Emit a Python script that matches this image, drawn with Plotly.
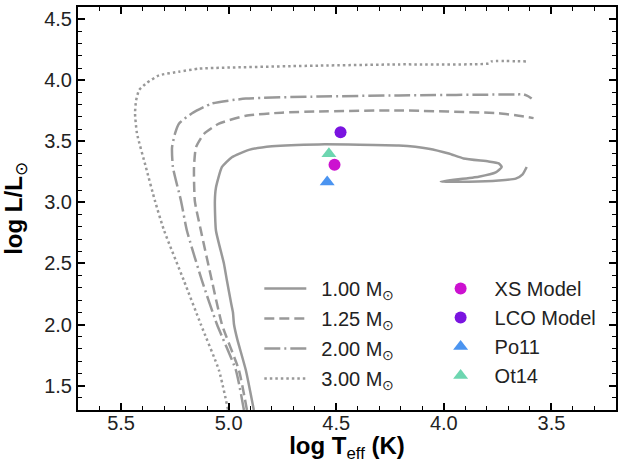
import plotly.graph_objects as go

# ---- data ----
m100_teff = [4.883, 4.920, 4.960, 4.975, 4.980, 4.988, 5.008, 5.022, 5.059, 5.064, 5.059, 5.031, 4.985, 4.906, 4.799,
             4.581, 4.209, 4.070, 3.977, 3.908, 3.792, 3.745, 3.731, 3.759, 3.838, 4.014, 3.884, 3.745, 3.666, 3.634, 3.615]
m100_lum = [1.30, 1.625, 1.88, 2.00, 2.10, 2.17, 2.36, 2.50, 2.77, 3.01, 3.12, 3.29, 3.37, 3.43, 3.46,
            3.475, 3.466, 3.44, 3.40, 3.36, 3.335, 3.32, 3.29, 3.245, 3.21, 3.17, 3.17, 3.18, 3.195, 3.23, 3.29]

m125_teff = [4.915, 4.952, 5.031, 5.078, 5.129, 5.157, 5.161, 5.152, 5.115, 5.045, 4.920, 4.753, 4.581, 4.209, 3.745, 3.652, 3.583]
m125_lum = [1.30, 1.625, 2.00, 2.36, 2.77, 3.01, 3.285, 3.45, 3.56, 3.645, 3.71, 3.735, 3.745, 3.753, 3.73, 3.71, 3.69]

m200_teff = [4.929, 4.966, 5.054, 5.124, 5.194, 5.221, 5.259, 5.263, 5.249, 5.231, 5.170, 5.078, 4.920, 4.581, 4.209, 3.666, 3.629, 3.606, 3.592]
m200_lum = [1.30, 1.625, 2.00, 2.36, 2.77, 3.01, 3.29, 3.45, 3.565, 3.645, 3.73, 3.81, 3.85, 3.867, 3.876, 3.884, 3.884, 3.867, 3.85]

m300_teff = [5.003, 5.045, 5.129, 5.208, 5.300, 5.342, 5.384, 5.426, 5.435, 5.430, 5.416, 5.379, 5.324, 5.231, 5.138, 4.581, 4.209, 3.792, 3.778, 3.606]
m300_lum = [1.305, 1.625, 2.00, 2.36, 2.77, 3.01, 3.285, 3.565, 3.73, 3.835, 3.92, 3.98, 4.04, 4.07, 4.095, 4.12, 4.13, 4.137, 4.154, 4.154]

track_names = ["\u20021.00 M<sub>⊙</sub>", "\u20021.25 M<sub>⊙</sub>", "\u20022.00 M<sub>⊙</sub>", "\u20023.00 M<sub>⊙</sub>"]

point_names = ["XS Model", "LCO Model", "Po11", "Ot14"]
point_teff = [4.508, 4.480, 4.542, 4.534]
point_lum = [3.309, 3.575, 3.166, 3.398]

x_ticks = [5.5, 5.0, 4.5, 4.0, 3.5]
y_ticks = [1.5, 2.0, 2.5, 3.0, 3.5, 4.0, 4.5]

# ---- styles ----
gray = "#999999"
dashes = ["solid", "10px,5px", "16px,4px,2px,4px", "2.5px,3px"]
widths = [2.5, 2.5, 2.5, 2.5]
pt_colors = ["#cc11d0", "#7a14e0", "#4b94f0", "#6dd6b0"]
pt_symbols = ["circle", "circle", "triangle-up", "triangle-up"]
pt_sizes = [12, 12, 13, 13]

fig = go.Figure()
tracks = [(m100_teff, m100_lum), (m125_teff, m125_lum), (m200_teff, m200_lum), (m300_teff, m300_lum)]
for i, (tx, ly) in enumerate(tracks):
    fig.add_trace(go.Scatter(
        x=tx, y=ly, mode="lines", name=track_names[i],
        line=dict(color=gray, width=widths[i], dash=dashes[i], shape="spline", smoothing=0.5),
        legend="legend", legendgroup="t%d" % i))

for i in range(len(point_names)):
    fig.add_trace(go.Scatter(
        x=[point_teff[i]], y=[point_lum[i]], mode="markers", name=point_names[i],
        marker=dict(color=pt_colors[i], symbol=pt_symbols[i], size=pt_sizes[i]),
        legend="legend2", legendgroup="p%d" % i))

font_family = "Liberation Sans, Arial, sans-serif"
axis_common = dict(
    showline=True, linecolor="black", linewidth=2, mirror="ticks",
    ticks="inside", ticklen=7, tickwidth=1.5, tickcolor="black",
    showgrid=False, zeroline=False, automargin=False,
    tickfont=dict(family=font_family, size=20, color="#222"),
    minor=dict(ticks="inside", ticklen=4, tickwidth=1, tickcolor="black", dtick=0.1, showgrid=False),
)

fig.update_layout(
    width=623, height=463,
    margin=dict(l=78, r=7, t=7, b=53),
    paper_bgcolor="white", plot_bgcolor="white",
    font=dict(family=font_family, color="black"),
    showlegend=True,
    xaxis=dict(range=[5.70, 3.20], tickvals=x_ticks, ticktext=["%.1f" % v for v in x_ticks],
               ticklabelstandoff=-6,
               title=dict(text="<b>log T</b><sub>eff</sub><b> (K)</b>", font=dict(size=24)),
               **axis_common),
    yaxis=dict(range=[1.30, 4.60], tickvals=y_ticks, ticktext=["%.1f" % v for v in y_ticks],
               title=dict(text="<b>log L/L</b><sub>⊙</sub>", font=dict(size=24)),
               **axis_common),
    legend=dict(x=0.337, y=0.35, xanchor="left", yanchor="top", bgcolor="rgba(0,0,0,0)",
                font=dict(size=20, color="#222"), tracegroupgap=1, itemwidth=42),
    legend2=dict(x=0.648, y=0.35, xanchor="left", yanchor="top", bgcolor="rgba(0,0,0,0)",
                 font=dict(size=20, color="#222"), tracegroupgap=0, itemwidth=58),
)

fig.write_html("out.html", config={"displayModeBar": False},
               post_script="document.body.style.margin='0';")
